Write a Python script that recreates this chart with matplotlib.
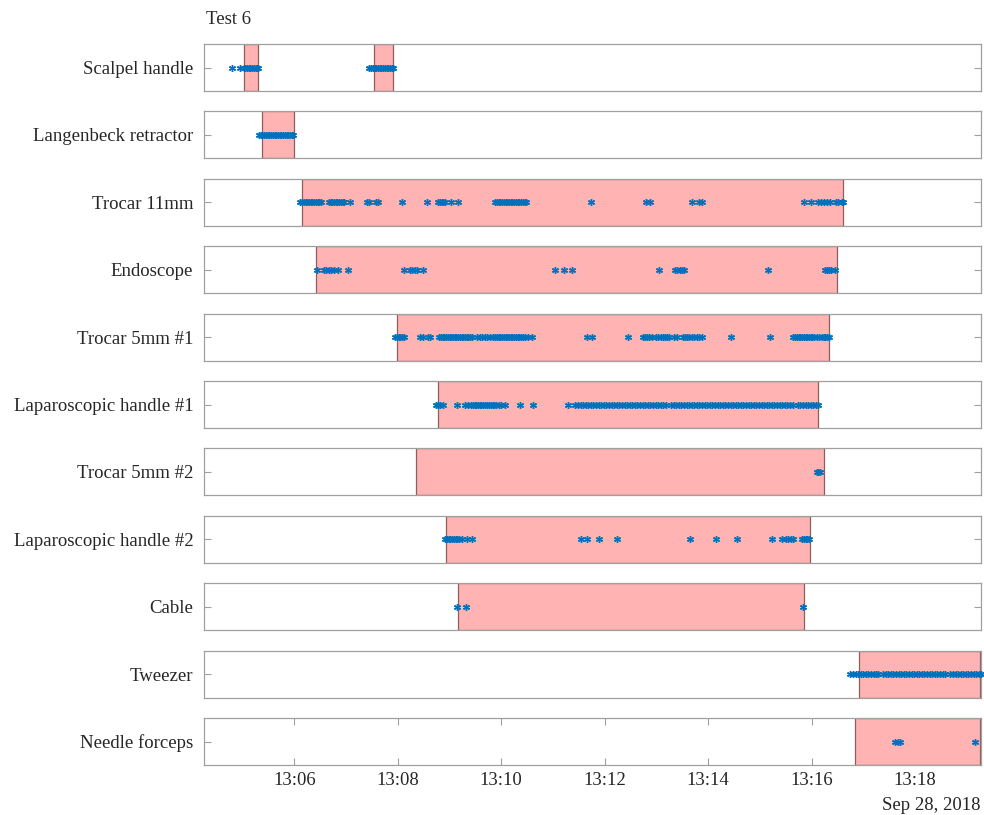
import datetime as dt
import matplotlib
matplotlib.use("Agg")
import matplotlib.pyplot as plt
import matplotlib.dates as mdates
from matplotlib.patches import Rectangle

plt.rcParams["font.family"] = ["Liberation Serif", "DejaVu Serif"]

# Instrument usage log for test 6; times are seconds after 13:00:00 on 2018-09-28
instruments = [
    "Scalpel handle", "Langenbeck retractor", "Trocar 11mm", "Endoscope",
    "Trocar 5mm #1", "Laparoscopic handle #1", "Trocar 5mm #2",
    "Laparoscopic handle #2", "Cable", "Tweezer", "Needle forceps",
]

# Annotated usage intervals (start, end) per instrument
intervals = [
    [(302, 318), (452, 474)],
    [(323, 359)],
    [(369, 997)],
    [(385, 989)],
    [(479, 980)],
    [(527, 967)],
    [(501, 974)],
    [(536, 958)],
    [(550, 951)],
    [(1015, 1156)],
    [(1010, 1156)],
]

# Sensor detections per instrument
det_scalpel = [288, 297, 301, 303, 305, 307, 309, 311, 313, 315, 317, 318,
               447, 449, 451, 453, 455, 457, 459, 461, 463, 465, 467, 469,
               471, 473, 474]
det_langenbeck = [319, 321, 323, 325, 327, 329, 331, 333, 335, 337, 339, 341,
                  343, 345, 347, 349, 351, 353, 355, 357, 358]
det_trocar11 = [367, 369, 371, 373, 375, 377, 379, 381, 383, 385, 387, 389, 391,
                400, 402, 404, 406, 408, 410, 412, 414, 416, 418, 425,
                444, 447, 455, 457, 485, 514, 527, 529, 531, 533, 535, 542, 550,
                593, 595, 597, 599, 601, 603, 605, 607, 609, 611, 613, 615, 617,
                619, 621, 623, 625, 627, 629, 704, 768, 772, 821, 829, 833,
                951, 959, 968, 971, 975, 978, 981, 988, 991, 995, 997]
det_endoscope = [386, 394, 397, 400, 403, 406, 411, 422, 487, 494, 497, 500,
                 502, 509, 662, 673, 682, 783, 801, 804, 807, 810, 812, 909,
                 976, 978, 980, 982, 987]
det_trocar5_1 = [477, 479, 481, 483, 485, 487, 506, 509, 515, 517,
                 528, 530, 532, 534, 536, 538, 540, 542, 544, 546, 548, 550,
                 552, 554, 556, 558, 560, 562, 564, 566,
                 572, 575, 578, 581, 584, 587,
                 591, 593, 595, 597, 599, 601, 603, 605, 607, 609, 611, 613,
                 615, 617, 619, 621, 623, 625, 627, 631, 636, 700, 705, 747,
                 765, 767, 769, 771, 775, 779, 782, 785, 788, 790, 792, 795,
                 800, 804, 811, 813, 815, 818, 821, 824, 827, 830, 833, 867,
                 912, 939, 941, 943, 945, 947, 949, 951, 953, 955, 957, 959,
                 961, 963, 966, 969, 972, 974, 976, 978, 980]
det_lap1 = [524, 527, 529, 533, 549, 558, 562, 565, 567, 569, 571, 573, 575,
            577, 579, 581, 583, 586, 588, 590, 592, 594, 597, 600, 604, 622,
            637, 678,
            686, 689, 692, 695, 698, 701, 704, 707, 710, 713, 716, 719, 722,
            725, 728, 731, 734, 737, 740, 743, 746, 749, 752, 755, 758, 761,
            764, 767, 770, 773, 776, 779, 782, 785, 788, 791,
            797, 800, 803, 806, 809, 812, 815, 818, 821, 824, 827, 830, 833,
            836, 839, 842, 845, 848, 851, 854, 857, 860, 863, 866, 869, 872,
            875, 878, 881, 884, 887, 890, 893, 896, 899, 902, 905, 908, 911,
            914, 917, 920, 923, 926, 929, 932, 935, 938, 944, 947, 950, 953,
            956, 959, 962, 965, 967]
det_trocar5_2 = [966, 968, 970]
det_lap2 = [535, 537, 539, 541, 543, 545, 547, 549, 551, 554, 560, 566, 692,
            700, 713, 734, 819, 849, 873, 914, 926, 930, 933, 936, 939, 949,
            951, 953, 955, 957]
det_cable = [549, 559, 950]
det_tweezer = [1005, 1008, 1011, 1014, 1017, 1020, 1023, 1026, 1029, 1032,
               1035, 1037, 1043, 1046, 1049, 1052, 1055, 1058, 1061, 1064,
               1067, 1070, 1073, 1076, 1079, 1082, 1085, 1088, 1091, 1094,
               1097, 1100, 1103, 1106, 1109, 1112, 1115, 1121, 1124, 1127,
               1130, 1133, 1136, 1139, 1142, 1145, 1148, 1151, 1154, 1156]
det_needle = [1057, 1060, 1063, 1150]

detections = [det_scalpel, det_langenbeck, det_trocar11, det_endoscope,
              det_trocar5_1, det_lap1, det_trocar5_2, det_lap2, det_cable,
              det_tweezer, det_needle]

x_limits = (255.5, 1156)
tick_minutes = [6, 8, 10, 12, 14, 16, 18]

base = dt.datetime(2018, 9, 28, 13, 0, 0)


def to_num(sec):
    return mdates.date2num(base + dt.timedelta(seconds=float(sec)))


W, H = 984, 815
fig = plt.figure(figsize=(W / 100, H / 100), dpi=100)

frame_col = "#a0a0a0"
text_col = "#262626"
fs = 13.5
left_px, right_px = 204.3, 980.5
top0, pitch, height_px = 44.0, 67.4, 47.0

for i, name in enumerate(instruments):
    top = top0 + i * pitch
    ax = fig.add_axes([left_px / W, 1 - (top + height_px) / H,
                       (right_px - left_px) / W, height_px / H])
    ax.set_xlim(to_num(x_limits[0]), to_num(x_limits[1]))
    ax.set_ylim(0, 1)
    for s, e in intervals[i]:
        x0 = to_num(s)
        ax.add_patch(Rectangle((x0, 0), to_num(e) - x0, 1,
                               facecolor="#ffb3b3", edgecolor="#8c5e5e",
                               linewidth=0.9, zorder=2))
    xs = [to_num(t) for t in detections[i]]
    ax.plot(xs, [0.5] * len(xs), linestyle="none", marker=(6, 2, 0),
            markersize=5.0, markeredgewidth=1.0, color="#0072bd",
            zorder=3, clip_on=False)
    for sp in ax.spines.values():
        sp.set_color(frame_col)
        sp.set_linewidth(0.9)
    ax.set_yticks([0.5])
    ax.set_yticklabels([name])
    ax.tick_params(axis="y", direction="in", left=True, right=True,
                   length=5, width=0.8, color=frame_col, labelsize=fs,
                   labelcolor=text_col, pad=8)
    ticks = [to_num(m * 60) for m in tick_minutes]
    ax.set_xticks(ticks)
    if i == len(instruments) - 1:
        ax.xaxis.set_major_formatter(mdates.DateFormatter("%H:%M"))
        ax.tick_params(axis="x", direction="in", top=True, bottom=True,
                       length=5, width=0.8, color=frame_col, labelsize=fs,
                       labelcolor=text_col, pad=5)
    else:
        ax.tick_params(axis="x", bottom=False, top=False, labelbottom=False)

fig.text(206 / W, 1 - 20 / H, "Test 6", ha="left", va="center",
         fontsize=fs, color=text_col)
fig.text(981 / W, 1 - 806 / H, "Sep 28, 2018", ha="right", va="center",
         fontsize=fs, color=text_col)

fig.savefig("out.png", dpi=100)
